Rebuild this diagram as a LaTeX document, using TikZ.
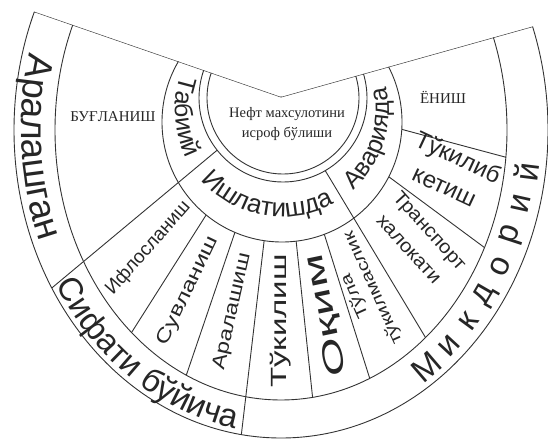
\documentclass[tikz,border=0pt]{standalone}
\usepackage{fontspec}
\setmainfont{Liberation Serif}
\newfontfamily\sansf{Liberation Sans}
\usetikzlibrary{calc,decorations.text}
\begin{document}
\begin{tikzpicture}[x=1pt,y=1pt,
  ln/.style={line width=0.9pt, draw=black!80},
  midtxt/.style={font=\sansf\fontsize{19}{22}\selectfont, text=black!85, inner sep=0pt, align=center},
  sertxt/.style={font=\fontsize{15}{20}\selectfont, text=black!85, inner sep=0pt, align=center},
  outtxt/.style={font=\sansf\fontsize{33}{33}\selectfont, text=black!85, inner sep=0pt},
  arctxt/.style={decorate, decoration={text along path, text align=center, text color=black!85}}]
\useasboundingbox (0,0) rectangle (548,445);
\coordinate (O) at (281,348);
\coordinate (C0) at (283,347);
\coordinate (C2) at (282,323);
\coordinate (Ec) at (281,315);
\coordinate (T2) at (282,335);
% ---------- rings and radial lines ----------
\begin{scope}
  \clip (281,348) -- (-448,600) -- (-448,-300) -- (1031,-300) -- (1031,558) -- cycle;
  \clip (Ec) ellipse [x radius=267, y radius=308];
  \draw[ln] (O) -- ++(-140.2:700);
  \draw[ln] (O) -- ++(-96.7:700);
  \fill[white] (Ec) ellipse [x radius=226, y radius=270];
  \begin{scope}
    \clip (Ec) ellipse [x radius=226, y radius=270];
    \foreach \a in {-140.2,-122.4,-108.8,-96.7,-84,-72.5,-59,-36.5,-15}
      \draw[ln] (O) -- ++(\a:700);
  \end{scope}
  \draw[ln] (Ec) ellipse [x radius=226, y radius=270];
  \fill[white] (C2) circle [radius=120];
  \begin{scope}
    \clip (C2) circle [radius=120];
    \foreach \a in {-140.2,-59}
      \draw[ln] (O) -- ++(\a:300);
  \end{scope}
  \draw[ln] (C2) circle [radius=120];
  \fill[white] (C0) circle [radius=84];
  \draw[ln] (C0) circle [radius=84];
  \draw[ln] (C0) circle [radius=76];
  \draw[ln] (O) -- ++(160.93:700);
  \draw[ln] (O) -- ++(15.64:700);
\end{scope}
\begin{scope}
  \clip (281,348) -- (-448,600) -- (-448,-300) -- (1031,-300) -- (1031,558) -- cycle;
  \draw[ln] (Ec) ellipse [x radius=267, y radius=308];
\end{scope}
% ---------- outer ring texts ----------
\path[arctxt, decoration={text={|\sansf\fontsize{37}{37}\selectfont|Аралашган}}]
  ($(Ec)+(143.7:260 and 300)$) arc [start angle=143.7, end angle=223.7, x radius=260, y radius=300];
\path[arctxt, decoration={text={|\sansf\fontsize{33}{33}\selectfont|Сифати бўйича}}]
  ($(Ec)+(187:262 and 303)$) arc [start angle=187, end angle=287, x radius=262, y radius=303];
\foreach \t/\ch [count=\i] in {-54/М,-47.4/и,-40.9/к,-34.3/д,-27.7/о,-21.1/р,-14.6/и,-8.3/й}{
  \pgfmathsetmacro\rot{atan2(293*cos(\t),-248*sin(\t))}
  \node[outtxt, rotate=\rot] (mk\i) at ($(Ec)+(\t:248 and 293)$) {\ch};
}
% ---------- second ring texts ----------
\path[arctxt, decoration={text={|\sansf\fontsize{25}{25}\selectfont|Табиий}}]
  ($(T2)+(134:107)$) arc [start angle=134, end angle=234, radius=107];
\path[arctxt, decoration={text={|\sansf\fontsize{26}{26}\selectfont|Ишлатишда}}]
  ($(T2)+(-155:107)$) arc [start angle=-155, end angle=-45, radius=107];
\path[arctxt, decoration={text={|\sansf\fontsize{25}{25}\selectfont|Аварияда}}]
  ($(T2)+(-73:107)$) arc [start angle=-73, end angle=37, radius=107];
% ---------- middle ring texts ----------
\node[midtxt, rotate=48.7] (t1) at ($(O)+(-131.3:201)$) {Ифлосланиш};
\node[midtxt, rotate=64.4, xscale=1.3] (t2) at ($(O)+(-115.6:215)$) {Сувланиш};
\node[midtxt, rotate=77.25, xscale=1.23] (t3) at ($(O)+(-102.75:220)$) {Аралашиш};
\node[midtxt, font=\sansf\fontsize{22}{24}\selectfont, rotate=90, xscale=1.5] (t4) at ($(O)+(-90:224)$) {Тўкилиш};
\node[midtxt, font=\sansf\fontsize{28}{30}\selectfont, rotate=101.75, xscale=1.8] (t5) at ($(O)+(-78:223)$) {Оқим};
\node[midtxt, font=\sansf\fontsize{16}{20}\selectfont, rotate=114.25, xscale=1.3] (t6) at ($(O)+(-66.9:212)$) {Тўла\\тўкилмаслик};
\node[midtxt, font=\sansf\fontsize{19}{28}\selectfont, rotate=-47.75, xscale=1.08] (t7) at ($(O)+(-45.8:199)$) {Транспорт\\халокати};
\node[midtxt, font=\sansf\fontsize{24}{32}\selectfont, rotate=-25] (t8) at ($(O)+(-23.5:186)$) {Тўкилиб\\кетиш};
% ---------- serif texts ----------
\node[sertxt] (bug) at (113,328) {БУҒЛАНИШ};
\node[sertxt] (yon) at (443,348) {ЁНИШ};
\node[sertxt, font=\fontsize{14.5}{20}\selectfont] (ctr) at (287,321) {Нефт махсулотини\\исроф бўлиши};
\end{tikzpicture}
\end{document}
